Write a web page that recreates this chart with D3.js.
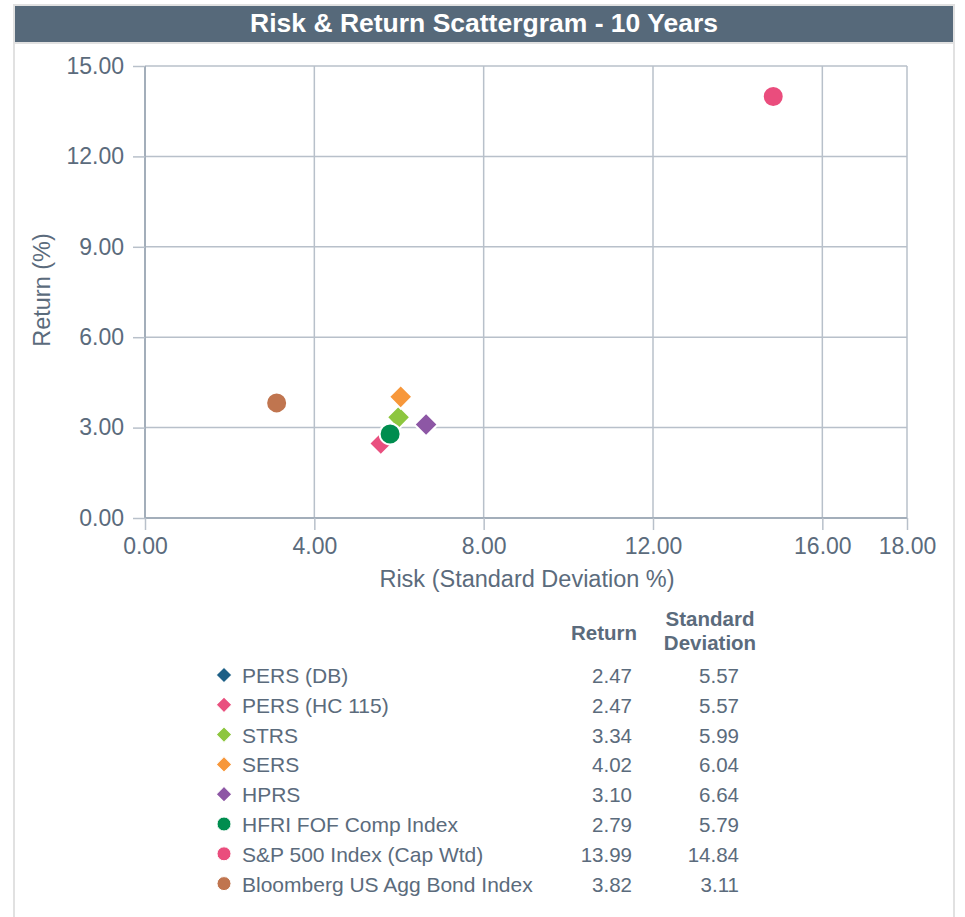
<!DOCTYPE html>
<html>
<head>
<meta charset="utf-8">
<script src="https://cdn.jsdelivr.net/npm/d3@7"></script>
<style>
  body { margin: 0; background: #fff; font-family: "Liberation Sans", Arial, sans-serif; }
  svg text { font-family: "Liberation Sans", Arial, sans-serif; }
</style>
</head>
<body>
<svg width="965" height="917"></svg>
<script>
// chart data
let names = ["PERS (DB)", "PERS (HC 115)", "STRS", "SERS", "HPRS",
             "HFRI FOF Comp Index", "S&P 500 Index (Cap Wtd)", "Bloomberg US Agg Bond Index"];
let returns = [2.47, 2.47, 3.34, 4.02, 3.10, 2.79, 13.99, 3.82];
let stdDevs = [5.57, 5.57, 5.99, 6.04, 6.64, 5.79, 14.84, 3.11];
let colors = ["#1b5e86", "#e9507f", "#8dc63f", "#f7973a", "#8d57a5", "#008d4f", "#ea4d7d", "#c0754f"];
let shapes = ["diamond", "diamond", "diamond", "diamond", "diamond", "circle", "circle", "circle"];
let xTicks = [0, 4, 8, 12, 16, 18];
let yTicks = [0, 3, 6, 9, 12, 15];

let svg = d3.select("svg"),
    textColor = "#5b6b7c",
    gridColor = "#b8c0ca",
    margin = {top: 66, left: 145},
    width = 762,
    height = 452,
    fmt = d3.format(".2f");

let data = names.map(function(n, i) {
  return {name: n, ret: returns[i], sd: stdDevs[i], color: colors[i], shape: shapes[i]};
});

// frame + title bar
svg.append("rect")
    .attr("x", 14).attr("y", 5).attr("width", 940).attr("height", 920)
    .attr("fill", "none").attr("stroke", "#e1e1e1").attr("stroke-width", 2);
svg.append("rect")
    .attr("x", 15).attr("y", 6).attr("width", 938).attr("height", 36)
    .attr("fill", "#56697a");
svg.append("line")
    .attr("x1", 15).attr("x2", 953).attr("y1", 43).attr("y2", 43)
    .attr("stroke", "#e1e1e1").attr("stroke-width", 2);
svg.append("text")
    .attr("x", 484).attr("y", 32)
    .attr("text-anchor", "middle")
    .attr("fill", "#fff")
    .attr("font-size", 26.5).attr("font-weight", "bold")
    .text("Risk & Return Scattergram - 10 Years");

let g = svg.append("g").attr("transform", "translate(" + margin.left + "," + margin.top + ")");

let x = d3.scaleLinear().domain([0, 18]).range([0, width]);
let y = d3.scaleLinear().domain([0, 15]).range([height, 0]);

// grid
g.append("g").selectAll("line").data(yTicks).join("line")
    .attr("x1", 0).attr("x2", width)
    .attr("y1", function(d) { return y(d); }).attr("y2", function(d) { return y(d); })
    .attr("stroke", gridColor).attr("stroke-width", 1.5);
g.append("g").selectAll("line").data(xTicks.slice(1)).join("line")
    .attr("x1", function(d) { return x(d); }).attr("x2", function(d) { return x(d); })
    .attr("y1", 0).attr("y2", height)
    .attr("stroke", gridColor).attr("stroke-width", 1.5);

let xAxis = d3.axisBottom(x).tickValues(xTicks).tickFormat(fmt).tickSize(12).tickPadding(8);
let yAxis = d3.axisLeft(y).tickValues(yTicks).tickFormat(fmt).tickSize(12).tickPadding(9);

let xGroup = g.append("g").attr("transform", "translate(0," + height + ")").call(xAxis);
let yGroup = g.append("g").call(yAxis);

[xGroup, yGroup].forEach(function(ax) {
  ax.select(".domain").attr("stroke", "#a3aeba").attr("stroke-width", 2);
  ax.selectAll(".tick line").attr("stroke", gridColor).attr("stroke-width", 1.5);
  ax.selectAll(".tick text").attr("fill", textColor).attr("font-size", 23)
    .attr("font-family", "Liberation Sans, Arial, sans-serif");
});
xGroup.select(".domain").attr("d", "M0,0H" + width);
yGroup.select(".domain").attr("d", "M0,0V" + height);

svg.append("text")
    .attr("x", 527).attr("y", 587)
    .attr("text-anchor", "middle").attr("fill", textColor).attr("font-size", 23.5)
    .text("Risk (Standard Deviation %)");
svg.append("text")
    .attr("transform", "translate(50,290) rotate(-90)")
    .attr("text-anchor", "middle").attr("fill", textColor).attr("font-size", 23.5)
    .text("Return (%)");

let diamond = d3.symbol().type(d3.symbolSquare);

function drawMarker(sel, d, size, sw) {
  if (d.shape === "circle") {
    sel.append("circle").attr("r", size / 2)
      .attr("fill", d.color).attr("stroke", "#fff").attr("stroke-width", sw);
  } else {
    sel.append("path").attr("d", diamond.size(size * size * 0.62)())
      .attr("transform", "rotate(45)")
      .attr("fill", d.color).attr("stroke", "#fff").attr("stroke-width", sw);
  }
}

// points (draw in order; HC 115 covers DB)
g.append("g").selectAll("g").data(data).join("g")
    .attr("transform", function(d) { return "translate(" + x(d.sd) + "," + y(d.ret) + ")"; })
    .each(function(d) { drawMarker(d3.select(this), d, 21, 2); });

// legend table
let rowY0 = 675, rowStep = 29.8;
let leg = svg.append("g");
leg.append("text").attr("x", 604).attr("y", 640).attr("text-anchor", "middle")
    .attr("fill", textColor).attr("font-size", 20.5).attr("font-weight", "bold").text("Return");
leg.append("text").attr("x", 710).attr("y", 626).attr("text-anchor", "middle")
    .attr("fill", textColor).attr("font-size", 20.5).attr("font-weight", "bold").text("Standard");
leg.append("text").attr("x", 710).attr("y", 650).attr("text-anchor", "middle")
    .attr("fill", textColor).attr("font-size", 20.5).attr("font-weight", "bold").text("Deviation");

let rows = leg.selectAll("g.row").data(data).join("g")
    .attr("class", "row")
    .attr("transform", function(d, i) { return "translate(0," + (rowY0 + i * rowStep) + ")"; });
rows.append("g").attr("transform", "translate(224,0)")
    .each(function(d) { drawMarker(d3.select(this), d, 14, 1); });
rows.append("text").attr("x", 242).attr("y", 8)
    .attr("fill", textColor).attr("font-size", 21)
    .text(function(d) { return d.name; });
rows.append("text").attr("x", 632).attr("y", 8).attr("text-anchor", "end")
    .attr("fill", textColor).attr("font-size", 20.5)
    .text(function(d) { return fmt(d.ret); });
rows.append("text").attr("x", 739).attr("y", 8).attr("text-anchor", "end")
    .attr("fill", textColor).attr("font-size", 20.5)
    .text(function(d) { return fmt(d.sd); });
</script>
</body>
</html>
